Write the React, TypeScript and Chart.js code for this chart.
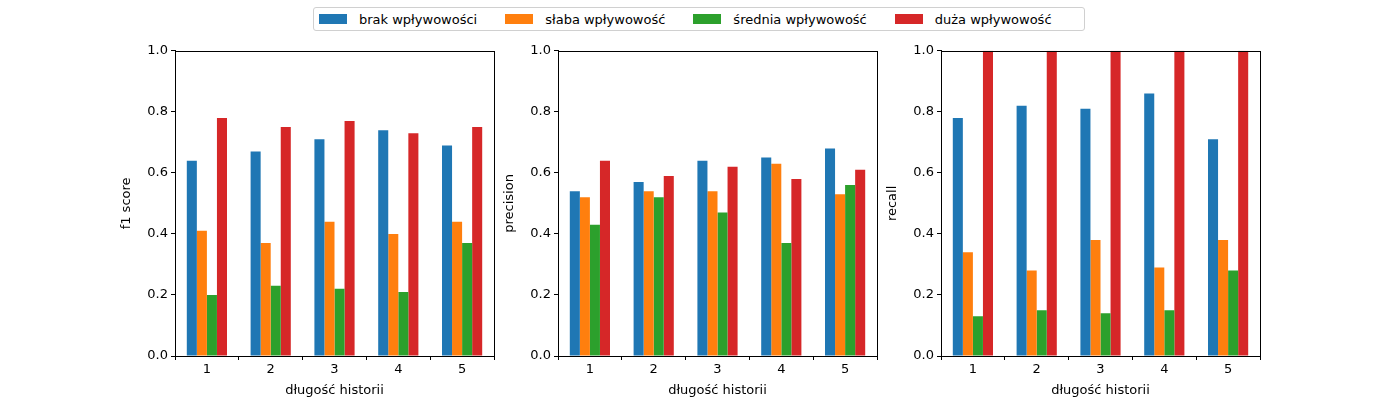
import { useEffect, useRef } from 'react';
import Chart from 'chart.js/auto';

const categories = ['1', '2', '3', '4', '5'];
const seriesNames = ['brak wpływowości', 'słaba wpływowość', 'średnia wpływowość', 'duża wpływowość'];
const colors = ['#1f77b4', '#ff7f0e', '#2ca02c', '#d62728'];

const f1Brak = [0.64, 0.67, 0.71, 0.74, 0.69];
const f1Slaba = [0.41, 0.37, 0.44, 0.4, 0.44];
const f1Srednia = [0.2, 0.23, 0.22, 0.21, 0.37];
const f1Duza = [0.78, 0.75, 0.77, 0.73, 0.75];

const precBrak = [0.54, 0.57, 0.64, 0.65, 0.68];
const precSlaba = [0.52, 0.54, 0.54, 0.63, 0.53];
const precSrednia = [0.43, 0.52, 0.47, 0.37, 0.56];
const precDuza = [0.64, 0.59, 0.62, 0.58, 0.61];

const recBrak = [0.78, 0.82, 0.81, 0.86, 0.71];
const recSlaba = [0.34, 0.28, 0.38, 0.29, 0.38];
const recSrednia = [0.13, 0.15, 0.14, 0.15, 0.28];
const recDuza = [1, 1, 1, 1, 1];

const FONT = 'DejaVu Sans';

const frame = {
  id: 'frame',
  afterDraw(chart: Chart) {
    const { ctx, chartArea: a } = chart;
    ctx.save();
    ctx.strokeStyle = '#000';
    ctx.lineWidth = 1;
    ctx.strokeRect(Math.round(a.left) + 0.5, Math.round(a.top) + 0.5, Math.round(a.right - a.left), Math.round(a.bottom - a.top));
    ctx.restore();
  },
};

function Panel({ left, yLabel, series }: { left: number; yLabel: string; series: number[][] }) {
  const canvasRef = useRef<HTMLCanvasElement>(null);

  useEffect(() => {
    if (!canvasRef.current) return;
    const chart = new Chart(canvasRef.current, {
      type: 'bar',
      data: {
        labels: categories,
        datasets: series.map((d, i) => ({
          label: seriesNames[i],
          data: d,
          backgroundColor: colors[i],
          categoryPercentage: 0.63,
          barPercentage: 1,
        })),
      },
      options: {
        animation: false,
        responsive: false,
        layout: { padding: { top: 8, right: 10, left: 0, bottom: 0 } },
        plugins: { legend: { display: false }, tooltip: { enabled: false } },
        scales: {
          x: {
            grid: { drawOnChartArea: false, tickLength: 4, color: '#000' },
            border: { color: '#000' },
            ticks: { color: '#000', font: { family: FONT, size: 13 }, padding: 2 },
            title: { display: true, text: 'długość historii', color: '#000', font: { family: FONT, size: 13 }, padding: 2 },
            afterFit: (s: any) => { s.height = 44; },
          },
          y: {
            min: 0,
            max: 1,
            grid: { drawOnChartArea: false, tickLength: 4, color: '#000' },
            border: { color: '#000' },
            ticks: { stepSize: 0.2, color: '#000', font: { family: FONT, size: 13 }, callback: (v: any) => Number(v).toFixed(1), padding: 3 },
            title: { display: true, text: yLabel, color: '#000', font: { family: FONT, size: 13 }, padding: 4 },
            afterFit: (s: any) => { s.width = 60; },
          },
        },
      },
      plugins: [frame],
    });
    return () => chart.destroy();
  }, [yLabel, series]);

  return (
    <canvas
      ref={canvasRef}
      width={329 + 60}
      height={360}
      style={{ position: 'absolute', left: left - 60, top: 40, width: 389, height: 360 }}
    />
  );
}

export default function App() {
  return (
    <div style={{ position: 'fixed', left: 0, top: 0, width: 1400, height: 400, background: '#fff', fontFamily: FONT }}>
      <div
        style={{
          position: 'absolute', left: 313, top: 7, width: 772, height: 24,
          border: '1px solid #d0d0d0', borderRadius: 3, display: 'flex', alignItems: 'center',
          boxSizing: 'border-box', paddingLeft: 5, fontSize: 13, color: '#000',
        }}
      >
        {seriesNames.map((n, i) => (
          <div key={n} style={{ display: 'flex', alignItems: 'center', marginRight: i < 3 ? 28 : 0 }}>
            <span style={{ display: 'inline-block', width: 28, height: 10, background: colors[i], marginRight: 12 }} />
            <span>{n}</span>
          </div>
        ))}
      </div>
      <Panel left={175} yLabel="f1 score" series={[f1Brak, f1Slaba, f1Srednia, f1Duza]} />
      <Panel left={558} yLabel="precision" series={[precBrak, precSlaba, precSrednia, precDuza]} />
      <Panel left={941} yLabel="recall" series={[recBrak, recSlaba, recSrednia, recDuza]} />
    </div>
  );
}
